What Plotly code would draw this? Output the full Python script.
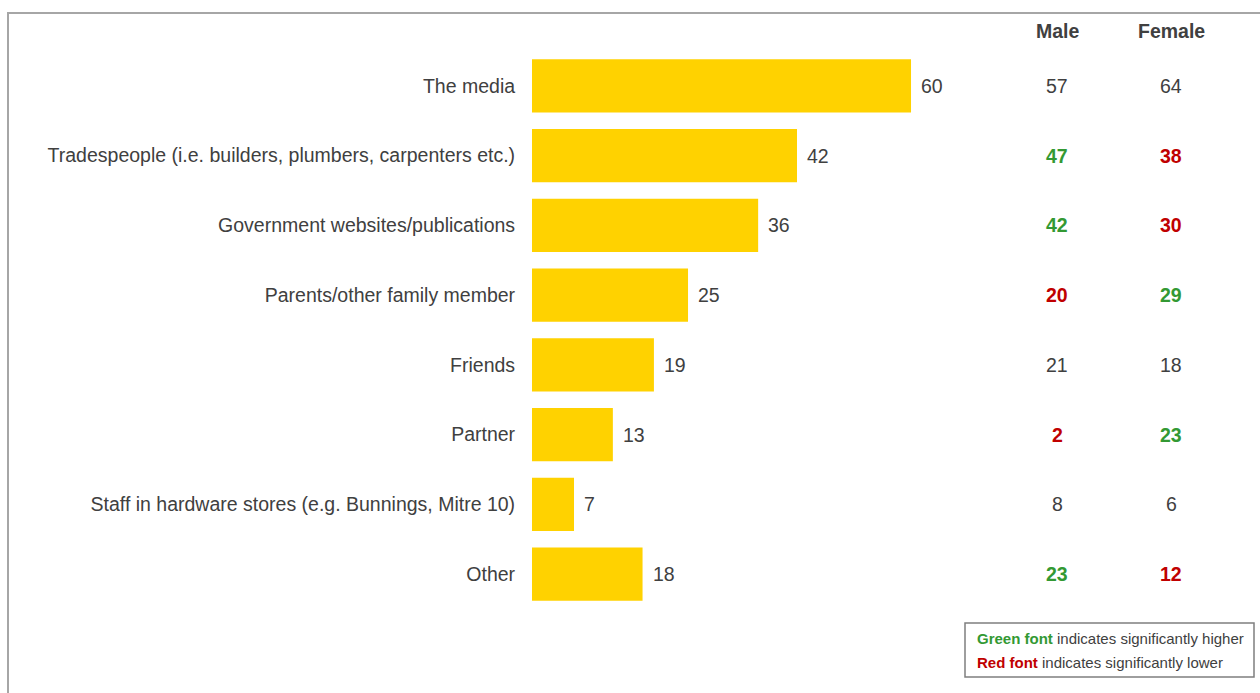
import plotly.graph_objects as go

categories = ["The media", "Tradespeople (i.e. builders, plumbers, carpenters etc.)",
              "Government websites/publications", "Parents/other family member",
              "Friends", "Partner", "Staff in hardware stores (e.g. Bunnings, Mitre 10)", "Other"]
# bar lengths (unrounded) and the printed labels
total_exact = [60.0, 41.95, 35.8, 24.7, 19.3, 12.8, 6.65, 17.5]
total_label = [60, 42, 36, 25, 19, 13, 7, 18]
male = [57, 47, 42, 20, 21, 2, 8, 23]
female = [64, 38, 30, 29, 18, 23, 6, 12]
# significance: 1 = higher (green), -1 = lower (red), 0 = none
male_sig = [0, 1, 1, -1, 0, -1, 0, 1]
female_sig = [0, -1, -1, 1, 0, 1, 0, -1]

W, H = 1260, 693
L, R, T, B = 532, 0, 51, 84
PW, PH = W - L - R, H - T - B
XMAX = PW / 6.317

def px(x):
    return (x - L) / PW

def py(y):
    return (H - B - y) / PH

TEXT = "#404040"
GREEN = "#339933"
RED = "#C00000"
BAR = "#FFD200"
FONT = "Liberation Sans, Arial, sans-serif"
FS = 19.5

def col(s):
    return GREEN if s == 1 else (RED if s == -1 else TEXT)

fig = go.Figure(go.Bar(
    y=categories, x=total_exact, orientation="h",
    marker=dict(color=BAR, line=dict(width=0)), width=0.76,
    hoverinfo="skip",
))

ann = []
for c, v, lab in zip(categories, total_exact, total_label):
    ann.append(dict(x=v, y=c, xref="x", yref="y", text=str(lab), showarrow=False,
                    xanchor="left", yanchor="middle", xshift=8,
                    font=dict(size=FS, color=TEXT, family=FONT)))
for c, m, ms, f, fs in zip(categories, male, male_sig, female, female_sig):
    ann.append(dict(x=px(1057), y=c, xref="paper", yref="y", xanchor="center", yanchor="middle",
                    text=(f"<b>{m}</b>" if ms else str(m)), showarrow=False,
                    font=dict(size=FS, color=col(ms), family=FONT)))
    ann.append(dict(x=px(1171), y=c, xref="paper", yref="y", xanchor="center", yanchor="middle",
                    text=(f"<b>{f}</b>" if fs else str(f)), showarrow=False,
                    font=dict(size=FS, color=col(fs), family=FONT)))
for label, xp in [("Male", 1058), ("Female", 1171)]:
    ann.append(dict(x=px(xp), y=py(31), xref="paper", yref="paper", xanchor="center", yanchor="middle",
                    text=f"<b>{label}</b>",
                    showarrow=False, font=dict(size=FS, color=TEXT, family=FONT)))

ann.append(dict(x=px(975), y=py(638), xref="paper", yref="paper", xanchor="left", yanchor="middle",
                text=f"<b><span style='color:{GREEN}'>Green font</span></b> indicates significantly higher",
                showarrow=False, font=dict(size=15, color=TEXT, family=FONT)))
ann.append(dict(x=px(975), y=py(662), xref="paper", yref="paper", xanchor="left", yanchor="middle",
                text=f"<b><span style='color:{RED}'>Red font</span></b> indicates significantly lower",
                showarrow=False, font=dict(size=15, color=TEXT, family=FONT)))

shapes = [
    dict(type="rect", xref="paper", yref="paper", x0=px(965), x1=px(1254), y0=py(623), y1=py(677),
         line=dict(color="#7F7F7F", width=1.5), fillcolor="rgba(0,0,0,0)"),
    dict(type="line", xref="paper", yref="paper", x0=px(8), x1=px(8), y0=py(13), y1=py(700),
         line=dict(color="#A6A6A6", width=2)),
    dict(type="line", xref="paper", yref="paper", x0=px(7), x1=px(1270), y0=py(13), y1=py(13),
         line=dict(color="#A6A6A6", width=2)),
]

fig.update_layout(
    width=W, height=H,
    margin=dict(l=L, r=R, t=T, b=B, pad=0),
    paper_bgcolor="white", plot_bgcolor="white",
    showlegend=False,
    xaxis=dict(range=[0, XMAX], visible=False, fixedrange=True),
    yaxis=dict(autorange="reversed", showgrid=False, zeroline=False, showline=False,
               ticks="outside", ticklen=12, tickcolor="rgba(0,0,0,0)",
               tickfont=dict(size=FS, color=TEXT, family=FONT), fixedrange=True),
    annotations=ann, shapes=shapes,
    font=dict(family=FONT, color=TEXT),
)

fig.write_html("out.html")
